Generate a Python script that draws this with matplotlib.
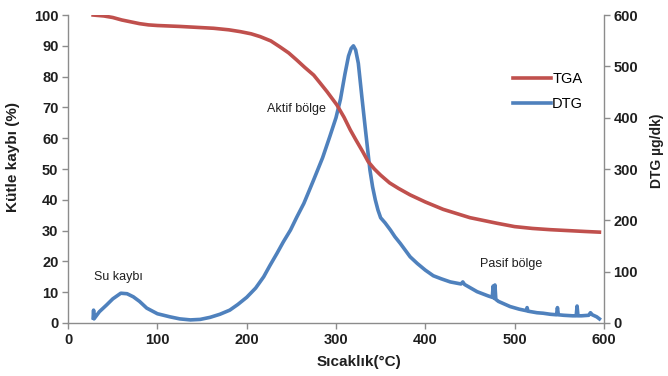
import numpy as np
import matplotlib
matplotlib.use("Agg")
import matplotlib.pyplot as plt

plt.rcParams['font.family'] = ['Liberation Sans', 'DejaVu Sans']

# TGA: kütle kaybı (%) - sıcaklık
tga_t = [28, 40, 50, 60, 70, 80, 90, 100, 125, 163, 180, 193, 205, 215, 227,
         237, 247, 256, 265, 275, 282, 290, 301, 309, 316, 322, 330, 336, 343,
         350, 360, 370, 383, 400, 420, 450, 480, 500, 520, 540, 560, 580, 595]
tga_val = [100, 99.7, 99.2, 98.4, 97.8, 97.2, 96.8, 96.6, 96.3, 95.7, 95.2,
           94.6, 93.9, 93, 91.6, 89.7, 87.7, 85.4, 83, 80.5, 78, 75.1, 70.8,
           66.8, 62.7, 59.6, 55.6, 52.4, 50, 48, 45.5, 43.7, 41.6, 39.3, 36.9,
           34.2, 32.4, 31.3, 30.7, 30.3, 30, 29.7, 29.5]

# DTG (µg/dk) - sıcaklık, küçük sıçramalar dahil
dtg_t = [28, 28.5, 29, 35, 43, 50, 59, 66, 73, 80, 88, 100, 114, 125, 137, 148,
         159, 170, 181, 190, 200, 210, 219, 226, 234, 241, 249, 256, 264, 270,
         275, 285, 293, 300, 305, 310, 314, 317, 319.5, 322, 325, 329, 333, 338,
         341, 344, 347, 350, 355, 361, 366, 372, 383, 391, 400, 409, 418, 428,
         440, 442, 444, 458, 470, 475, 476, 477, 478, 479, 482, 495, 505, 513,
         514, 515, 525, 532, 540, 547, 548, 549, 555, 565, 569, 570, 571, 575,
         583, 585, 587, 592, 595]
dtg_val = [10, 25, 8, 22, 35, 47, 58, 57, 51, 42, 29, 18, 12, 8, 6, 7,
           11, 17, 25, 36, 50, 68, 90, 112, 136, 158, 181, 206, 233, 258,
           279, 322, 363, 400, 436, 485, 520, 535, 540, 532, 506, 440, 376, 298,
           265, 240, 220, 205, 195, 181, 168, 155, 129, 116, 103, 92, 86, 80,
           76, 80, 75, 61, 53, 50, 72, 48, 74, 46, 42, 32, 27, 24,
           30, 23, 20, 19, 17, 16, 30, 16, 15, 14, 14, 33, 14, 14,
           15, 20, 16, 12, 8]

x_ticks = [0, 100, 200, 300, 400, 500, 600]
pct_ticks = [0, 10, 20, 30, 40, 50, 60, 70, 80, 90, 100]
dtg_ticks = [0, 100, 200, 300, 400, 500, 600]

red = '#C0504D'
blue = '#4F81BD'
grey = '#8C8C8C'
txt = '#1f1f1f'

fig = plt.figure(figsize=(6.68, 3.76), dpi=100)
ax = fig.add_axes([0.102, 0.141, 0.802, 0.819])
ax2 = ax.twinx()

l1, = ax.plot(tga_t, tga_val, color=red, lw=2.6, solid_joinstyle='round', label='TGA')
l2, = ax2.plot(dtg_t, dtg_val, color=blue, lw=2.6, solid_joinstyle='round', label='DTG')
ax.set_zorder(ax2.get_zorder() + 1)
ax.patch.set_visible(False)

ax.set_xlim(0, 600)
ax.set_ylim(0, 100)
ax2.set_ylim(0, 600)
ax.set_xticks(x_ticks)
ax.set_yticks(pct_ticks)
ax2.set_yticks(dtg_ticks)

for a in (ax, ax2):
    a.spines['top'].set_visible(False)
    for s in ('left', 'right', 'bottom'):
        a.spines[s].set_color(grey)
        a.spines[s].set_linewidth(1.0)
    a.tick_params(direction='out', length=4, width=1, color=grey,
                  labelsize=10.5, labelcolor=txt, pad=3)
    for lab in a.get_xticklabels() + a.get_yticklabels():
        lab.set_fontweight('bold')
ax.spines['right'].set_visible(False)
ax2.spines['left'].set_visible(False)
ax2.spines['bottom'].set_visible(False)

ax.set_xlabel('Sıcaklık(°C)', fontsize=11, fontweight='bold', color=txt)
ax.xaxis.set_label_coords(0.543, -0.105)
ax.set_ylabel('Kütle kaybı (%)', fontsize=11, fontweight='bold', color=txt)
ax.yaxis.set_label_coords(-0.09, 0.54)
ax2.set_ylabel('DTG µg/dk)', fontsize=10, fontweight='bold', color=txt, rotation=90)
ax2.yaxis.set_label_coords(1.086, 0.56)

ax.text(56, 15, 'Su kaybı', fontsize=9, color=txt, ha='center', va='center')
ax.text(256, 69.5, 'Aktif bölge', fontsize=9, color=txt, ha='center', va='center')
ax.text(496, 19.2, 'Pasif bölge', fontsize=9, color=txt, ha='center', va='center')

ax.legend(handles=[l1, l2], loc='upper left', bbox_to_anchor=(0.83, 0.815),
          frameon=False, fontsize=10.5, handlelength=2.6, handletextpad=0.1,
          labelspacing=0.75, borderpad=0, borderaxespad=0)

fig.savefig('out.png', dpi=100)
